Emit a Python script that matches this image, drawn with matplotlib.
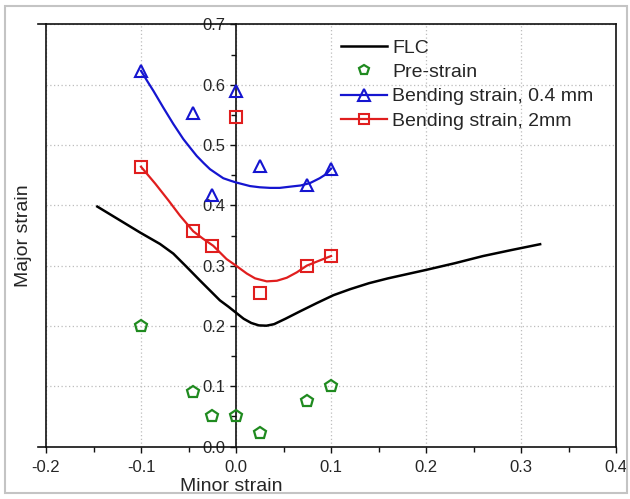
import matplotlib
matplotlib.use("Agg")
import matplotlib.pyplot as plt
from matplotlib.patches import Rectangle
from matplotlib.ticker import MultipleLocator

plt.rcParams["font.family"] = ["Liberation Sans", "DejaVu Sans"]

# FLC curve
flc_x = [-0.146, -0.101, -0.08, -0.066, -0.052, -0.038, -0.017, -0.008, 0.0,
         0.008, 0.016, 0.024, 0.032, 0.040, 0.052, 0.067, 0.085, 0.1024,
         0.12, 0.14, 0.16, 0.18, 0.20, 0.23, 0.26, 0.29, 0.32]
flc_y = [0.398, 0.355, 0.336, 0.320, 0.298, 0.2755, 0.2425, 0.232, 0.222,
         0.212, 0.205, 0.201, 0.2005, 0.203, 0.212, 0.224, 0.238, 0.251,
         0.261, 0.271, 0.279, 0.286, 0.293, 0.304, 0.316, 0.326, 0.3356]

# measured points
pts_x = [-0.1, -0.045, -0.025, 0.0, 0.025, 0.075, 0.1]
pre_y = [0.20, 0.09, 0.05, 0.05, 0.023, 0.075, 0.10]
bend04_y = [0.623, 0.553, 0.418, 0.589, 0.465, 0.433, 0.461]
bend2_y = [0.464, 0.357, 0.332, 0.546, 0.254, 0.300, 0.316]

# fitted trend lines
fit04_x = [-0.1, -0.093, -0.087, -0.0765, -0.066, -0.0555, -0.048, -0.0414,
           -0.034, -0.0274, -0.02, -0.0134, -0.006, 0.0, 0.0147, 0.025,
           0.0358, 0.046, 0.0568, 0.068, 0.0779, 0.088, 0.095, 0.1]
fit04_y = [0.623, 0.605, 0.590, 0.562, 0.535, 0.510, 0.495, 0.482,
           0.470, 0.460, 0.452, 0.445, 0.441, 0.438, 0.432, 0.430,
           0.429, 0.429, 0.431, 0.433, 0.437, 0.445, 0.452, 0.461]
fit2_x = [-0.1, -0.085, -0.071, -0.059, -0.045, -0.035, -0.024, -0.017, -0.01,
          0.0, 0.0113, 0.02, 0.0323, 0.043, 0.0534, 0.064, 0.0744, 0.087, 0.1]
fit2_y = [0.464, 0.436, 0.408, 0.383, 0.357, 0.345, 0.333, 0.322, 0.311,
          0.300, 0.287, 0.279, 0.274, 0.275, 0.280, 0.289, 0.300, 0.308, 0.316]

x_ticks = [-0.2, -0.1, 0.0, 0.1, 0.2, 0.3, 0.4]
y_ticks = [0.0, 0.1, 0.2, 0.3, 0.4, 0.5, 0.6, 0.7]

BLUE = "#1515d0"
RED = "#e01e1e"
GREEN = "#1f8a1f"
TEXT = "#262626"


def style_axes(ax):
    ax.set_xlim(-0.2, 0.4)
    ax.set_ylim(0.0, 0.7)
    ax.set_xticks(x_ticks)
    ax.set_yticks(y_ticks)
    ax.set_xticklabels([f"{v:.1f}" for v in x_ticks])
    ax.set_yticklabels([f"{v:.1f}" for v in y_ticks])
    ax.xaxis.set_minor_locator(MultipleLocator(0.05))
    ax.yaxis.set_minor_locator(MultipleLocator(0.05))

    # y axis sits on minor strain = 0
    ax.spines["left"].set_position(("data", 0))
    for s in ax.spines.values():
        s.set_linewidth(1.2)
        s.set_color("#111111")
    ax.plot([0, 0], [0, 1], transform=ax.transAxes, color="#111111",
            lw=1.2, clip_on=False)
    ax.plot([-0.014, 0], [1, 1], transform=ax.transAxes, color="#111111",
            lw=1.2, clip_on=False)
    ax.plot([-0.014, 0], [0, 0], transform=ax.transAxes, color="#111111",
            lw=1.2, clip_on=False)

    ax.tick_params(which="both", direction="out", color="#111111", width=1.0,
                   labelsize=12, labelcolor=TEXT)
    ax.tick_params(which="major", length=4.5)
    ax.tick_params(which="minor", length=3.5)
    ax.tick_params(axis="x", pad=5)
    ax.tick_params(axis="y", pad=3)

    ax.grid(True, which="major", linestyle=(0, (1, 2)), color="#bdbdbd", lw=0.9)
    ax.set_axisbelow(True)

    ax.set_xlabel("Minor strain", fontsize=14, color=TEXT)
    ax.set_ylabel("Major strain", fontsize=14, color=TEXT)
    ax.xaxis.set_label_coords(0.325, -0.075)
    ax.yaxis.set_label_coords(-0.025, 0.5)


def main():
    fig = plt.figure(figsize=(6.3, 4.99), dpi=100)
    ax = fig.add_axes([0.073, 0.105, 0.905, 0.846])

    ax.plot(flc_x, flc_y, color="black", lw=1.8, label="FLC", zorder=3,
            solid_joinstyle="round")
    ax.plot(pts_x, pre_y, linestyle="none", marker="p", ms=9, mfc="none",
            mec=GREEN, mew=1.6, label="Pre-strain", zorder=4)

    ax.plot(fit04_x, fit04_y, color=BLUE, lw=1.6, zorder=3,
            solid_joinstyle="round")
    ax.plot(pts_x, bend04_y, linestyle="none", marker="^", ms=8.5, mfc="none",
            mec=BLUE, mew=1.5, zorder=4)
    ax.plot(fit2_x, fit2_y, color=RED, lw=1.6, zorder=3,
            solid_joinstyle="round")
    ax.plot(pts_x, bend2_y, linestyle="none", marker="s", ms=8, mfc="none",
            mec=RED, mew=1.5, zorder=4)

    # legend proxies (line + marker)
    ax.plot([], [], color=BLUE, lw=1.6, marker="^", ms=8, mfc="none", mew=1.5,
            label="Bending strain, 0.4 mm")
    ax.plot([], [], color=RED, lw=1.6, marker="s", ms=7, mfc="none", mew=1.5,
            label="Bending strain, 2mm")

    style_axes(ax)

    leg = ax.legend(loc="upper left", bbox_to_anchor=(0.541, 0.921),
                    bbox_transform=fig.transFigure, frameon=False,
                    fontsize=14, handlelength=2.35, handletextpad=0.3,
                    labelspacing=0.34, borderpad=0, borderaxespad=0)
    for t in leg.get_texts():
        t.set_color(TEXT)
    leg.legend_handles[1].set_markersize(7)

    # light frame round the whole picture
    fig.patches.append(Rectangle((5 / 630, 6 / 499), 622 / 630, 487 / 499,
                                 transform=fig.transFigure, fill=False,
                                 edgecolor="#c4c4c4", lw=1.5))

    fig.savefig("out.png", dpi=100)


if __name__ == "__main__":
    main()
